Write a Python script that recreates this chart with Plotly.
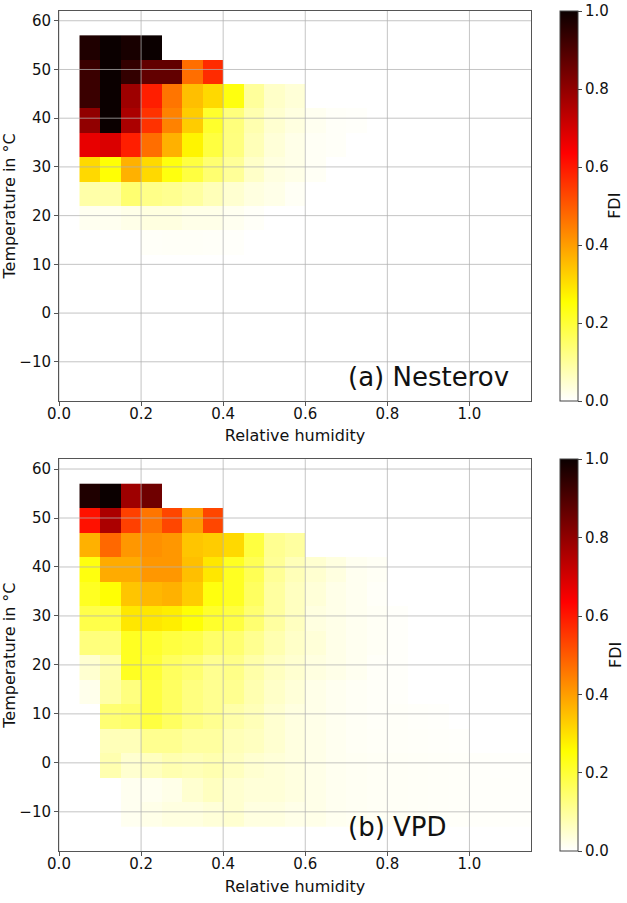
import plotly.graph_objects as go

# Datos: centros de las celdas (humedad relativa y temperatura)
rh_centers = [0.075, 0.125, 0.175, 0.225, 0.275, 0.325, 0.375, 0.425, 0.475, 0.525, 0.575,
              0.625, 0.675, 0.725, 0.775, 0.825, 0.875, 0.925, 0.975, 1.025, 1.075, 1.125]
temp_centers = [-10.5, -5.5, -0.5, 4.5, 9.5, 14.5, 19.5, 24.5, 29.5, 34.5, 39.5, 44.5, 49.5, 54.5]

x_ticks = [0.0, 0.2, 0.4, 0.6, 0.8, 1.0]
y_ticks = [-10, 0, 10, 20, 30, 40, 50, 60]
cbar_ticks = [0.0, 0.2, 0.4, 0.6, 0.8, 1.0]

N = None

# FDI Nesterov, filas de abajo (-10.5) hacia arriba (54.5)
nesterov_fdi = [
    [],
    [],
    [],
    [],
    [],
    [N, N, N, 0.007, 0.008, 0.008, 0.007, 0.005],
    [0.015, 0.015, 0.023, 0.031, 0.031, 0.023, 0.023, 0.015, 0.007],
    [0.087, 0.087, 0.142, 0.119, 0.111, 0.095, 0.071, 0.047, 0.031, 0.023, 0.010],
    [0.31, 0.25, 0.37, 0.31, 0.24, 0.19, 0.142, 0.103, 0.055, 0.031, 0.023, 0.010],
    [0.67, 0.69, 0.59, 0.47, 0.37, 0.27, 0.19, 0.127, 0.071, 0.039, 0.023, 0.010, 0.007],
    [0.80, 1.0, 0.76, 0.56, 0.44, 0.33, 0.21, 0.13, 0.08, 0.047, 0.031, 0.015, 0.007, 0.005],
    [0.93, 1.0, 0.78, 0.59, 0.46, 0.35, 0.31, 0.24, 0.10, 0.055, 0.04],
    [0.93, 1.0, 0.94, 0.87, 0.87, 0.47, 0.57],
    [0.97, 1.0, 0.98, 1.0],
]

# FDI VPD
vpd_fdi = [
    [N, N, 0.015, 0.023, 0.031, 0.031, 0.039, 0.047, 0.031, 0.031, 0.023, 0.023, 0.015, 0.012,
     0.010, 0.009, 0.008, 0.007, 0.006, 0.005, 0.005, 0.004],
    [N, N, 0.015, 0.015, 0.023, 0.047, 0.063, 0.047, 0.039, 0.039, 0.031, 0.023, 0.015, 0.012,
     0.010, 0.009, 0.008, 0.007, 0.006, 0.005, 0.005, 0.004],
    [N, 0.08, 0.047, 0.063, 0.079, 0.071, 0.079, 0.063, 0.047, 0.039, 0.031, 0.023, 0.015, 0.012,
     0.010, 0.009, 0.008, 0.007, 0.006, 0.005, 0.004, 0.004],
    [N, 0.07, 0.07, 0.111, 0.111, 0.095, 0.095, 0.071, 0.063, 0.047, 0.031, 0.023, 0.015, 0.010,
     0.008, 0.007, 0.006, 0.005, 0.004],
    [N, 0.14, 0.15, 0.19, 0.158, 0.127, 0.111, 0.087, 0.071, 0.047, 0.031, 0.023, 0.015, 0.010,
     0.007, 0.007, 0.005, 0.004],
    [0.02, 0.087, 0.127, 0.19, 0.158, 0.127, 0.111, 0.111, 0.079, 0.055, 0.039, 0.023, 0.015, 0.010,
     0.007, 0.005],
    [0.047, 0.08, 0.22, 0.20, 0.16, 0.142, 0.111, 0.119, 0.087, 0.063, 0.047, 0.031, 0.023, 0.015,
     0.007, 0.005],
    [0.13, 0.13, 0.22, 0.21, 0.19, 0.18, 0.15, 0.142, 0.111, 0.079, 0.055, 0.039, 0.023, 0.015,
     0.010, 0.005],
    [0.18, 0.18, 0.29, 0.29, 0.28, 0.25, 0.21, 0.19, 0.142, 0.095, 0.063, 0.031, 0.023, 0.015,
     0.010, 0.005],
    [0.22, 0.25, 0.34, 0.36, 0.37, 0.33, 0.24, 0.22, 0.158, 0.095, 0.063, 0.039, 0.023, 0.015, 0.007],
    [0.24, 0.38, 0.38, 0.41, 0.41, 0.35, 0.29, 0.22, 0.17, 0.105, 0.071, 0.047, 0.031, 0.015, 0.010],
    [0.37, 0.48, 0.41, 0.42, 0.41, 0.34, 0.33, 0.31, 0.19, 0.11, 0.095],
    [0.61, 0.76, 0.54, 0.46, 0.53, 0.40, 0.53],
    [0.97, 1.0, 0.78, 0.85],
]


def pad(rows):
    # completa cada fila con huecos hasta el número de columnas
    return [r + [None] * (len(rh_centers) - len(r)) for r in rows]


# hot_r de matplotlib
hot_r = [[0.0, "rgb(255,255,255)"], [0.253968, "rgb(255,255,0)"],
         [0.634921, "rgb(255,0,0)"], [1.0, "rgb(11,0,0)"]]

FONT = "DejaVu Sans"
W, H = 627, 903
# área de dibujo en píxeles
m_l, m_r, m_t, m_b = 58.7, 531, 11, 851.5
pw, ph = m_r - m_l, m_b - m_t
cb_left = 560
cb_title_x = 615
panels = [
    # (top px, bottom px, datos, texto)
    (11, 401, nesterov_fdi, "(a) Nesterov"),
    (459.5, 851.5, vpd_fdi, "(b) VPD"),
]

fig = go.Figure()
shapes = []
annotations = []

for i, (top, bottom, z, label) in enumerate(panels):
    sfx = "" if i == 0 else str(i + 1)
    y_top = 1 - (top - m_t) / ph
    y_bot = 1 - (bottom - m_t) / ph
    fig.add_trace(go.Heatmap(
        x=rh_centers,
        y=temp_centers,
        z=pad(z),
        colorscale=hot_r,
        zmin=0, zmax=1,
        xaxis="x" + sfx,
        yaxis="y" + sfx,
        hoverongaps=False,
        colorbar=dict(
            x=(cb_left - m_l) / pw, xanchor="left",
            y=y_top, yanchor="top",
            len=y_top - y_bot, lenmode="fraction",
            thickness=18, thicknessmode="pixels",
            outlinewidth=1, outlinecolor="#444",
            ticks="outside", ticklen=4, tickcolor="#444",
            tickvals=cbar_ticks, tickformat=".1f",
            tickfont=dict(family=FONT, size=15, color="#111"),
            xpad=0, ypad=0,
        ),
    ))

    axis_common = dict(
        showline=True, mirror=True, linecolor="#555", linewidth=1,
        ticks="outside", ticklen=4, tickcolor="#555",
        showgrid=False, zeroline=False, automargin=False,
        tickfont=dict(family=FONT, size=15, color="#111"),
    )
    fig.layout["xaxis" + sfx] = dict(
        axis_common,
        domain=[0, 1],
        range=[0, 1.15],
        tickvals=x_ticks, tickformat=".1f",
        ticklabelstandoff=-5,
        anchor="y" + sfx,
        title=dict(text="Relative humidity", standoff=8, font=dict(family=FONT, size=16, color="#111")),
    )
    fig.layout["yaxis" + sfx] = dict(
        axis_common,
        domain=[y_bot, y_top],
        range=[-18, 62],
        tickvals=y_ticks,
        anchor="x" + sfx,
        title=dict(text="Temperature in °C", standoff=2, font=dict(family=FONT, size=16, color="#111")),
    )

    # rejilla por encima de las celdas
    for xv in x_ticks:
        shapes.append(dict(type="line", xref="x" + sfx, yref="y" + sfx + " domain",
                           x0=xv, x1=xv, y0=0, y1=1, layer="above",
                           line=dict(color="rgba(176,176,176,0.75)", width=1)))
    for yv in y_ticks:
        shapes.append(dict(type="line", xref="x" + sfx + " domain", yref="y" + sfx,
                           x0=0, x1=1, y0=yv, y1=yv, layer="above",
                           line=dict(color="rgba(176,176,176,0.75)", width=1)))

    annotations.append(dict(
        text=label, x=0.7, y=-13.2, xref="x" + sfx, yref="y" + sfx,
        xanchor="left", yanchor="middle", showarrow=False,
        font=dict(family=FONT, size=26, color="#111"),
    ))
    # título de la barra de color
    annotations.append(dict(
        text="FDI", x=(cb_title_x - m_l) / pw, y=(y_top + y_bot) / 2,
        xref="paper", yref="paper", textangle=-90,
        xanchor="center", yanchor="middle", showarrow=False,
        font=dict(family=FONT, size=16, color="#111"),
    ))

fig.update_layout(
    width=W, height=H,
    margin=dict(l=m_l, r=W - m_r, t=m_t, b=H - m_b, autoexpand=False),
    paper_bgcolor="white",
    plot_bgcolor="white",
    font=dict(family=FONT, color="#111"),
    shapes=shapes,
    annotations=annotations,
)

# sin margen del body para que la figura quede en (0, 0)
fig.write_html("out.html", config={"displayModeBar": False},
               post_script="document.body.style.margin='0';")
